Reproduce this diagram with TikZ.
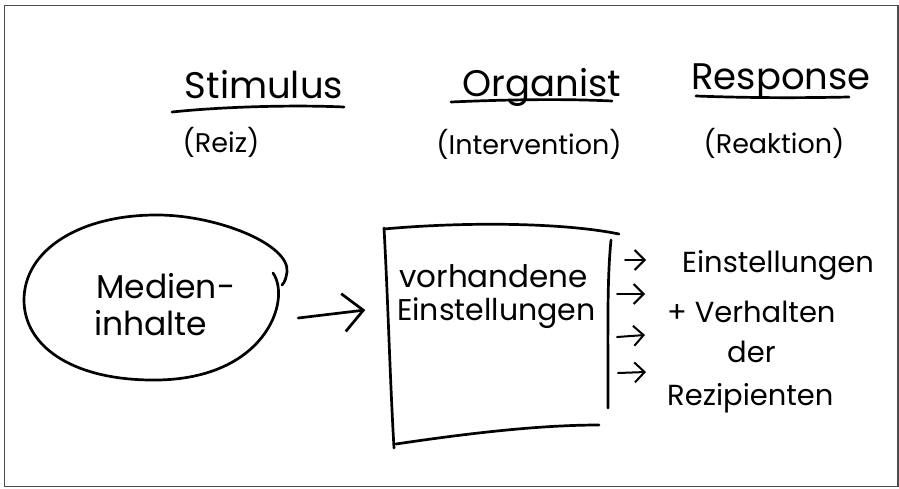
\documentclass[tikz,border=0pt]{standalone}
\usepackage{fontspec}
\setmainfont{Poppins}
\usetikzlibrary{arrows.meta,shapes.geometric}
\begin{document}
\begin{tikzpicture}[x=1pt,y=-1pt,
  pen/.style={line width=2.7pt, line cap=round, line join=round},
  heading/.style={font=\fontsize{37}{40}\selectfont, inner sep=0pt, anchor=base},
  gloss/.style={font=\fontsize{27}{30}\selectfont, inner sep=0pt, anchor=base},
  body/.style={font=\fontsize{29}{32}\selectfont, inner sep=0pt, anchor=base west},
  bigbody/.style={body, font=\fontsize{33}{36}\selectfont},
  bigarrow/.style={pen, -{Straight Barb[length=20pt,width=38pt,line width=2.7pt]}},
  smallarrow/.style={line width=2pt, line cap=round, -{Straight Barb[length=10pt,width=20pt,line width=2pt]}}]
\useasboundingbox (0,0) rectangle (899,488);
% frame
\draw[gray!60!black, line width=1.2pt] (4.5,5.5) rectangle (898,486.5);

% column headings
\node[heading] (stim) at (264,98) {Stimulus};
\node[heading] (org)  at (542,96)  {Organist};
\node[heading] (resp) at (781,89)  {Response};
\draw[pen] (172,112) .. controls (230,106) and (300,105) .. (344,107);
\draw[pen] (451,102) .. controls (520,99) and (570,99) .. (612,101);
\draw[pen] (696,96) .. controls (750,98) and (800,98) .. (849,97);

\node[gloss] (reiz)   at (221,152) {(Reiz)};
\node[gloss] (interv) at (529,154) {(Intervention)};
\node[gloss] (reakt)  at (774,153) {(Reaktion)};

% stimulus: media content
\node[ellipse, minimum width=264pt, minimum height=165pt] (medien) at (155,297) {};
\draw[pen] (273,273) .. controls (292,300) and (265,382) .. (150,380)
  .. controls (70,379) and (24,345) .. (24,300)
  .. controls (24,250) and (80,214) .. (160,215)
  .. controls (220,216) and (290,245) .. (287,272)
  .. controls (286,278) and (285,282) .. (282,285);
\node[bigbody] (med1) at (96,298) {Medien-};
\node[bigbody] (med2) at (94,335) {inhalte};

% organism: existing attitudes
\node[minimum width=225pt, minimum height=218pt] (organ) at (496,337) {};
\draw[pen] (384,228) .. controls (388,300) and (390,380) .. (394,448);
\draw[pen] (384,229) .. controls (460,222) and (560,222) .. (619,234);
\draw[pen] (611,240) .. controls (607,280) and (608,330) .. (608,408);
\draw[pen] (396,444) .. controls (470,433) and (540,425) .. (599,425);
\node[body, font=\fontsize{31}{34}\selectfont] (vorh)  at (399,287) {vorhandene};
\node[body, font=\fontsize{30}{34}\selectfont] (einst) at (397,320) {Einstellungen};

\draw[bigarrow] ([shift={(11,21)}]medien.east) -- ([shift={(-18,-27)}]organ.west);

% response
\coordinate (s1a) at (625,260); \coordinate (s1b) at (646,260);
\coordinate (s2a) at (617,294); \coordinate (s2b) at (645,294);
\coordinate (s3a) at (617,337); \coordinate (s3b) at (645,335);
\coordinate (s4a) at (618,373); \coordinate (s4b) at (646,372);
\draw[smallarrow] (s1a) -- (s1b);
\draw[smallarrow] (s2a) -- (s2b);
\draw[smallarrow] (s3a) -- (s3b);
\draw[smallarrow] (s4a) -- (s4b);

\node[body] (r1) at (682,272) {Einstellungen};
\node[body] (r2) at (667,322) {+ Verhalten};
\node[body] (r3) at (727,362) {der};
\node[body] (r4) at (667,405) {Rezipienten};
\end{tikzpicture}
\end{document}
